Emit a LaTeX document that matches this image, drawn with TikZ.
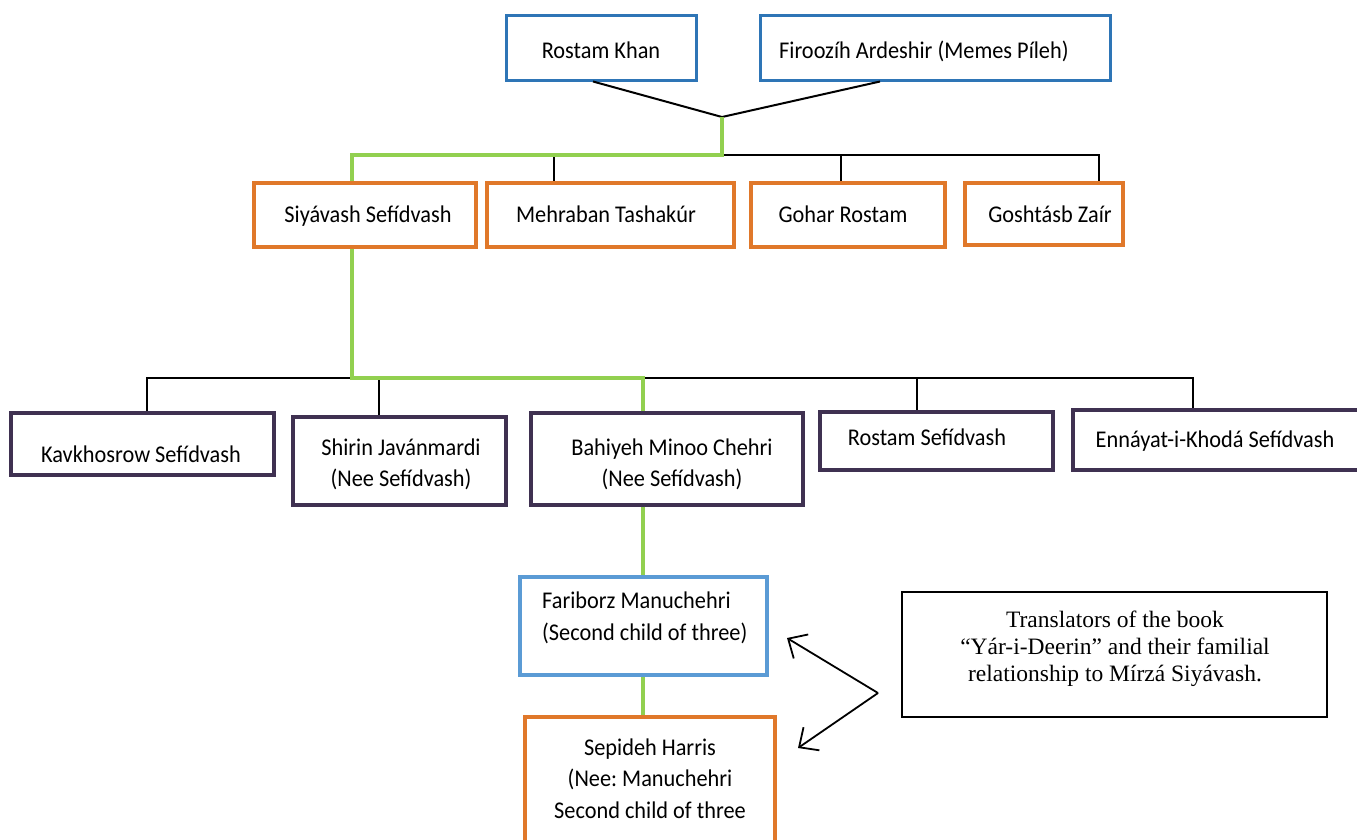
\documentclass[tikz,border=0pt]{standalone}
\usepackage{fontspec}
\setmainfont{Carlito}[FakeStretch=0.93]
\newfontfamily\timesf{Liberation Serif}
\usetikzlibrary{arrows.meta}
\frenchspacing
\definecolor{topblue}{HTML}{2E75B6}
\definecolor{lightblue}{HTML}{5B9BD5}
\definecolor{orangec}{HTML}{E0782A}
\definecolor{purplec}{HTML}{3F3151}
\definecolor{greenc}{HTML}{92D050}
\newcommand\mlc[1]{\begin{tabular}[t]{@{}c@{}}#1\end{tabular}}
\newcommand\mll[1]{\begin{tabular}[t]{@{}l@{}}#1\end{tabular}}
\tikzset{
  box/.style={rectangle, inner sep=0pt, line width=3.4pt},
  bluebox/.style={box, draw=topblue, line width=3pt},
  lbluebox/.style={box, draw=lightblue},
  orbox/.style={box, draw=orangec},
  purbox/.style={box, draw=purplec},
  txt/.style={inner sep=0pt, anchor=base, font=\fontsize{24}{31}\selectfont},
  glink/.style={draw=greenc, line width=3.4pt},
  blink/.style={draw=black, line width=2pt},
  arr/.style={draw=black, line width=1.8pt, -{Straight Barb[length=15pt,width=28pt,line width=1.8pt]}},
}
\begin{document}
\begin{tikzpicture}[x=1pt,y=-1pt]
\useasboundingbox (0,0) rectangle (1357,839);
\fill[white] (0,0) rectangle (1357,839);
\clip (0,0) rectangle (1357,839);
% row 1
\node[bluebox, minimum width=190pt, minimum height=65pt] (rk) at (601,47.5) {};
\node[txt] (rkt) at (601,58) {Rostam Khan};
\node[bluebox, minimum width=350pt, minimum height=65pt] (fa) at (935,47.5) {};
\node[txt, anchor=base west] (fat) at (779,58) {Firoozíh Ardeshir (Memes Píleh)};
% row 2
\node[orbox, minimum width=222pt, minimum height=64pt] (siy) at (365,215) {};
\node[txt] (siyt) at (368,222) {Siyávash Sefídvash};
\node[orbox, minimum width=247pt, minimum height=64pt] (meh) at (610.5,215) {};
\node[txt] (meht) at (606,222) {Mehraban Tashakúr};
\node[orbox, minimum width=194pt, minimum height=64pt] (goh) at (848,215) {};
\node[txt] (goht) at (843,222) {Gohar Rostam};
\node[orbox, minimum width=158pt, minimum height=62pt] (gos) at (1044,214) {};
\node[txt] (gost) at (1050,222) {Goshtásb Zaír};
% row 3
\node[purbox, minimum width=263pt, minimum height=62pt] (kav) at (142.5,444) {};
\node[txt] (kavt) at (141,462) {Kavkhosrow Sefídvash};
\node[purbox, minimum width=213pt, minimum height=88pt] (shi) at (399.5,461) {};
\node[txt] (shit) at (401,455) {\mlc{Shirin Javánmardi\\(Nee Sefídvash)}};
\node[purbox, minimum width=272pt, minimum height=92pt] (bah) at (667,459) {};
\node[txt] (baht) at (672,455) {\mlc{Bahiyeh Minoo Chehri\\(Nee Sefídvash)}};
\node[purbox, minimum width=233pt, minimum height=58pt] (ros) at (936.5,441) {};
\node[txt] (rost) at (927,445) {Rostam Sefídvash};
\node[purbox, minimum width=327pt, minimum height=60pt] (enn) at (1236.5,440) {};
\node[txt] (ennt) at (1215,447) {Ennáyat-i-Khodá Sefídvash};
% row 4
\node[lbluebox, minimum width=247pt, minimum height=98pt] (far) at (643.5,626) {};
\node[txt, anchor=base west, font=\fontsize{24}{32}\selectfont] (fart) at (542,608) {\mll{Fariborz Manuchehri\\(Second child of three)}};
\node[orbox, minimum width=250pt, minimum height=143pt] (sep) at (650,788.5) {};
\node[txt, font=\fontsize{24}{31.5}\selectfont] (sept) at (650,755) {\mlc{Sepideh Harris\\(Nee: Manuchehri\\Second child of three}};
% translators note
\node[draw=black, line width=1.4pt, minimum width=425pt, minimum height=125pt, inner sep=0pt] (tr) at (1114.5,654.5) {};
\node[inner sep=0pt, anchor=base, font=\timesf\fontsize{23.5}{27}\selectfont] (trt) at (1115,627) {\mlc{Translators of the book\\“Yár-i-Deerin” and their familial\\relationship to Mírzá Siyávash.}};
% connectors, top
\coordinate (J) at (722,117);
\coordinate (H1) at (722,155);
\draw[blink] (593,0 |- rk.south) -- (J) -- (880,0 |- fa.south);
\draw[blink] (H1) -- (1099,155) -- (1099,0 |- gos.north);
\draw[blink] (554,155) -- (554,0 |- meh.north);
\draw[blink] (841,155) -- (841,0 |- goh.north);
\draw[glink] (J) -- (H1) -- (352,155) -- (352,0 |- siy.north);
% connectors, middle
\coordinate (H2) at (352,378);
\draw[blink] (H2) -- (147,378) -- (147,0 |- kav.north);
\draw[blink] (379,378) -- (379,0 |- shi.north);
\draw[blink] (643,378) -- (1193,378) -- (1193,0 |- enn.north);
\draw[blink] (917,378) -- (917,0 |- ros.north);
\draw[glink] (352,0 |- siy.south) -- (H2) -- (643,378) -- (643,0 |- bah.north);
% connectors, lower
\draw[glink] (643,0 |- bah.south) -- (643,0 |- far.north);
\draw[glink] (643,0 |- far.south) -- (643,0 |- sep.north);
% arrows
\coordinate (apex) at (878,693);
\coordinate (a1) at (787,638);
\coordinate (a2) at (798,748);
\draw[arr] (apex) -- (a1);
\draw[arr] (apex) -- (a2);
\end{tikzpicture}
\end{document}
